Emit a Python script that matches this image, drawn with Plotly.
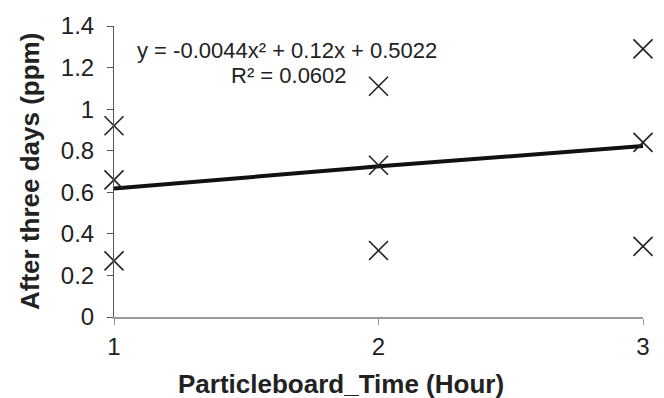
import plotly.graph_objects as go
import numpy as np

# Data
hours = [1, 1, 1, 2, 2, 2, 3, 3, 3]
ppm = [0.92, 0.66, 0.27, 1.11, 0.73, 0.32, 1.29, 0.84, 0.34]
coef = [-0.0044, 0.12, 0.5022]  # quadratic trendline coefficients
r2 = 0.0602
x_ticks = [1, 2, 3]
y_ticks = [0, 0.2, 0.4, 0.6, 0.8, 1, 1.2, 1.4]
y_tick_text = ["0", "0.2", "0.4", "0.6", "0.8", "1", "1.2", "1.4"]

xs = np.linspace(1, 3, 50)
ys = np.polyval(coef, xs)

fig = go.Figure()
fig.add_trace(go.Scatter(x=xs, y=ys, mode="lines",
                         line=dict(color="#111111", width=4),
                         cliponaxis=False, showlegend=False, hoverinfo="skip"))
fig.add_trace(go.Scatter(x=hours, y=ppm, mode="markers",
                         marker=dict(symbol="x-thin-open", size=19, color="#222222",
                                     line=dict(color="#222222", width=1.6)),
                         cliponaxis=False, showlegend=False))

font_family = "Liberation Sans, Arial, sans-serif"

W, H = 664, 398
L, R, T, B = 114, 21, 20, 81
PW, PH = W - L - R, H - T - B


def px(xp):
    return (xp - L) / PW


def py(yp):
    return (H - B - yp) / PH


fig.add_annotation(x=px(287), y=py(45), xref="paper", yref="paper",
                   text="y = -0.0044x² + 0.12x + 0.5022", showarrow=False,
                   xanchor="center", yanchor="middle",
                   font=dict(family=font_family, size=22, color="#222222"))
fig.add_annotation(x=px(289), y=py(71), xref="paper", yref="paper",
                   text="R² = %.4f" % r2, showarrow=False,
                   xanchor="center", yanchor="middle",
                   font=dict(family=font_family, size=22, color="#222222"))
fig.add_annotation(x=px(341), y=py(385), xref="paper", yref="paper",
                   text="<b>Particleboard_Time (Hour)</b>", showarrow=False,
                   xanchor="center", yanchor="middle",
                   font=dict(family=font_family, size=26, color="#222222"))
fig.add_annotation(x=px(30), y=py(169), xref="paper", yref="paper",
                   text="<b>After three days (ppm)</b>", showarrow=False,
                   textangle=-90, xanchor="center", yanchor="middle",
                   font=dict(family=font_family, size=26, color="#222222"))

fig.update_layout(
    width=W, height=H,
    margin=dict(l=L, r=R, t=T, b=B),
    plot_bgcolor="white", paper_bgcolor="white",
    font=dict(family=font_family, color="#222222"),
    xaxis=dict(range=[1, 3], tickvals=x_ticks, ticktext=[str(v) for v in x_ticks],
               showgrid=False, zeroline=False, showline=True,
               linecolor="#999999", linewidth=1.5,
               ticks="outside", ticklen=6, tickcolor="#999999",
               ticklabelstandoff=1,
               tickfont=dict(size=24, color="#222222")),
    yaxis=dict(range=[0, 1.4], tickvals=y_ticks, ticktext=y_tick_text,
               showgrid=False, zeroline=False, showline=True,
               linecolor="#555555", linewidth=1,
               ticks="outside", ticklen=6, tickcolor="#555555",
               ticklabelstandoff=8,
               tickfont=dict(size=24, color="#222222")),
)

fig.write_html("out.html")
